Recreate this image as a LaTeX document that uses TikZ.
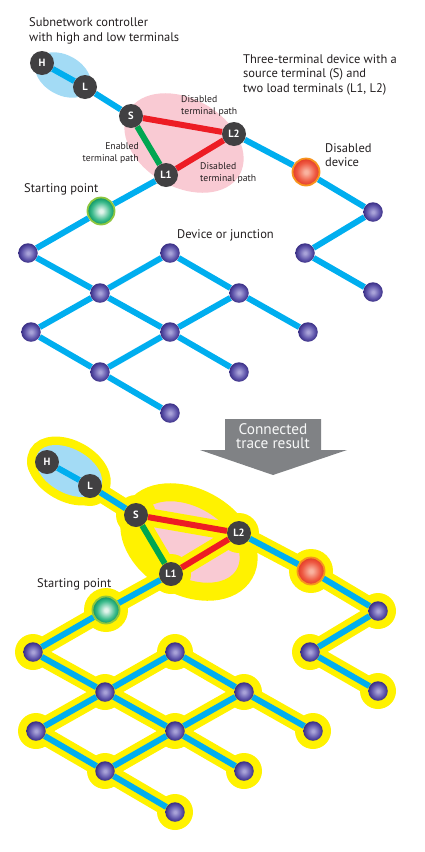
\documentclass[tikz,border=0pt]{standalone}
\usepackage{fontspec}
\setmainfont{PT Sans}

\definecolor{wire}{HTML}{00AEEF}
\definecolor{termred}{HTML}{ED1C24}
\definecolor{termgreen}{HTML}{00A651}
\definecolor{termgray}{HTML}{414042}
\definecolor{halo}{HTML}{FFF200}
\definecolor{ctrlblue}{HTML}{A3DBF5}
\definecolor{devpink}{HTML}{F9CAD3}
\definecolor{arrowgray}{HTML}{808285}
\definecolor{ink}{HTML}{231F20}
\definecolor{juncA}{HTML}{A8A2D8}
\definecolor{juncB}{HTML}{5E54AA}
\definecolor{juncC}{HTML}{3A2F85}
\definecolor{offA}{HTML}{F9B3A0}
\definecolor{offB}{HTML}{EE5A43}
\definecolor{offC}{HTML}{E33A26}
\definecolor{offring}{HTML}{F7941D}
\definecolor{startA}{HTML}{E3F4EC}
\definecolor{startB}{HTML}{3DBB8C}
\definecolor{startC}{HTML}{0A9463}
\definecolor{startring}{HTML}{8DC63F}

\pgfdeclareradialshading{juncball}{\pgfpoint{0bp}{0bp}}{color(0bp)=(juncA); color(3bp)=(juncA); color(17bp)=(juncB); color(25bp)=(juncC); color(50bp)=(juncC)}
\pgfdeclareradialshading{offball}{\pgfpoint{0bp}{0bp}}{color(0bp)=(offA); color(3bp)=(offA); color(17bp)=(offB); color(25bp)=(offC); color(50bp)=(offC)}
\pgfdeclareradialshading{startball}{\pgfpoint{0bp}{0bp}}{color(0bp)=(startA); color(3bp)=(startA); color(17bp)=(startB); color(25bp)=(startC); color(50bp)=(startC)}

\pgfdeclarelayer{ellipses}
\pgfdeclarelayer{halos}
\pgfdeclarelayer{links}
\pgfsetlayers{ellipses,halos,links,main}

% nodes of one network copy
\newcommand{\tracenodes}{%
  \node[term] (H) at (42,63) {H};
  \node[term] (L) at (85,87) {L};
  \node[term] (S) at (131,116) {S};
  \node[term] (L2) at (234,134) {L2};
  \node[term] (L1) at (166,175) {L1};
  \node[offdev] (off) at (306,172) {};
  \node[startpt] (start) at (101,211) {};
  \node[junc] (r1) at (373,212) {};
  \node[junc] (r2) at (305,253) {};
  \node[junc] (r3) at (373,292) {};
  \node[junc] (g1) at (28,253) {};
  \node[junc] (g2) at (170,253) {};
  \node[junc] (g3) at (100,293) {};
  \node[junc] (g4) at (239,293) {};
  \node[junc] (g5) at (31,332) {};
  \node[junc] (g6) at (170,332) {};
  \node[junc] (g7) at (308,332) {};
  \node[junc] (g8) at (100,372) {};
  \node[junc] (g9) at (239,372) {};
  \node[junc] (g10) at (170,413) {};
}
\newcommand{\bluelinks}{H/L, L/S, L2/off, off/r1, r1/r2, r2/r3, L1/start, start/g1, g1/g3, g3/g2, g2/g4, g4/g7, g3/g5, g3/g6, g6/g4, g6/g9, g5/g8, g8/g6, g8/g10}
\newcommand{\tracelinks}{%
  \begin{pgfonlayer}{links}
    \foreach \a/\b in \bluelinks {\draw[wire] (\a) -- (\b);}
    \draw[wire, draw=termred] (S) -- (L2) (L1) -- (L2);
    \draw[wire, draw=termgreen] (S) -- (L1);
  \end{pgfonlayer}}

\begin{document}
\begin{tikzpicture}[x=1pt, y=-1pt,
  term/.style = {circle, fill=termgray, text=white, inner sep=0pt, minimum size=24pt, font=\bfseries\fontsize{10.5}{10.5}\selectfont},
  junc/.style = {circle, inner sep=0pt, minimum size=19.5pt, shading=juncball},
  offdev/.style = {circle, inner sep=0pt, minimum size=27pt, draw=offring, line width=1.8pt, shading=offball},
  startpt/.style = {circle, inner sep=0pt, minimum size=27pt, draw=startring, line width=1.8pt, shading=startball},
  wire/.style = {draw=wire, line width=6pt},
  haloline/.style = {draw=halo, line width=18pt},
  lbl/.style = {text=ink, inner sep=0pt, align=left, font=\fontsize{12.5}{14.8}\selectfont},
  small/.style = {text=ink, inner sep=0pt, align=left, font=\fontsize{9.7}{12}\selectfont}]
\useasboundingbox (0,0) rectangle (425,852);

% network before tracing
\begin{scope}
  \tracenodes
  \tracelinks
  \begin{pgfonlayer}{ellipses}
    \fill[ctrlblue] (63,75) circle [x radius=30pt, y radius=20pt, rotate=-29];
    \fill[devpink] (184,143) circle [x radius=64pt, y radius=44pt, rotate=-30];
  \end{pgfonlayer}
\end{scope}

% labels
\node[lbl, anchor=north west] (sub) at (29,17.5) {Subnetwork controller\\with high and low terminals};
\node[lbl, anchor=north west] (three) at (243,54) {Three-terminal device with a\\source terminal (S) and\\two load terminals (L1, L2)};
\node[small, anchor=north west] (dis1) at (181,95.5) {Disabled\\terminal path};
\node[small, anchor=north east, align=right] (en) at (139,142.5) {Enabled\\terminal path};
\node[small, anchor=north west] (dis2) at (200,162.5) {Disabled\\terminal path};
\node[lbl, anchor=north west] (disdev) at (325,143) {Disabled\\device};
\node[lbl, anchor=base west] (startlbl) at (24,192) {Starting point};
\node[lbl, anchor=base west] (devj) at (177,238) {Device or junction};

% block arrow
\node[align=center, text=white!94!arrowgray, inner sep=0pt, font=\fontsize{15.3}{14.5}\selectfont] (trace) at (273,436) {Connected\\trace result};
\begin{pgfonlayer}{ellipses}
  \fill[arrowgray] (225,419) -- (321,419) -- (321,450) -- (347,450) -- (273,475) -- (200,450) -- (225,450) -- cycle;
\end{pgfonlayer}

% network after tracing
\begin{scope}[shift={(5,399)}, name prefix=b-]
  \tracenodes
  \tracelinks
  \begin{pgfonlayer}{ellipses}
    \draw[halo, line width=17pt] (64,72) circle [x radius=36pt, y radius=22pt, rotate=-29];
    \filldraw[fill=devpink, draw=halo, line width=18pt] (184,143) circle [x radius=64pt, y radius=44pt, rotate=-30];
  \end{pgfonlayer}
  \begin{pgfonlayer}{halos}
    \foreach \a/\b in \bluelinks {\draw[haloline] (\a) -- (\b);}
    \draw[haloline] (S) -- (L2) (L1) -- (L2) (S) -- (L1);
    \foreach \n in {H,L,S,L1,L2} {\fill[halo] (\n) circle (20pt);}
    \foreach \n in {off,start} {\fill[halo] (\n) circle (22pt);}
    \foreach \n in {r1,r2,r3,g1,g2,g3,g4,g5,g6,g7,g8,g9,g10} {\fill[halo] (\n) circle (18pt);}
    \fill[ctrlblue] (64,72) circle [x radius=36pt, y radius=22pt, rotate=-29];
  \end{pgfonlayer}
\end{scope}
\node[lbl, anchor=base west] (b-startlbl) at (37,587) {Starting point};
\end{tikzpicture}
\end{document}
